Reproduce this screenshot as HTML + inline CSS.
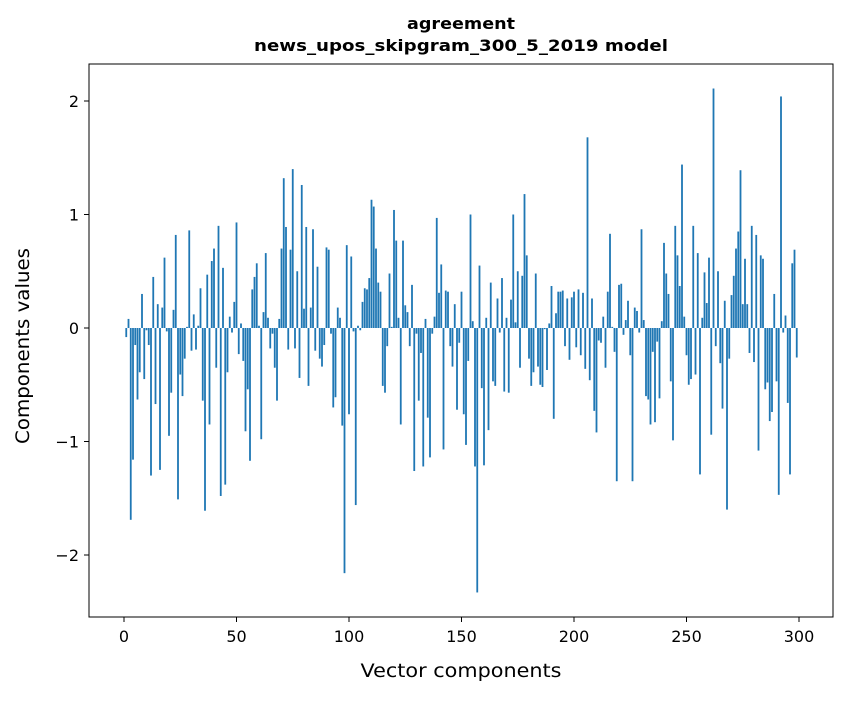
<!DOCTYPE html>
<html><head><meta charset="utf-8"><style>
body{margin:0;background:#fff;}
text{font-family:"DejaVu Sans","Liberation Sans",sans-serif;fill:#000;}
</style></head><body>
<svg id="chart" width="847" height="696" xmlns="http://www.w3.org/2000/svg">
<rect x="0" y="0" width="847" height="696" fill="#fff"/>
<text x="461" y="29" font-size="16" font-weight="bold" text-anchor="middle" textLength="108" lengthAdjust="spacingAndGlyphs">agreement</text>
<text x="461" y="51" font-size="16" font-weight="bold" text-anchor="middle" textLength="414" lengthAdjust="spacingAndGlyphs">news_upos_skipgram_300_5_2019 model</text>
<g id="bars"></g>
<g id="axes"></g>
<rect x="89" y="64" width="744" height="553" fill="none" stroke="#000" stroke-width="1"/>
<text x="461" y="677" font-size="19" text-anchor="middle" textLength="201" lengthAdjust="spacingAndGlyphs">Vector components</text>
<text transform="translate(29,346) rotate(-90)" font-size="19" text-anchor="middle" textLength="196" lengthAdjust="spacingAndGlyphs">Components values</text>
</svg>
<script>
const values = [-0.08,0.08,-1.69,-1.16,-0.15,-0.63,-0.39,0.30,-0.45,-0.02,-0.15,-1.30,0.45,-0.67,0.21,-1.25,0.18,0.62,-0.03,-0.95,-0.57,0.16,0.82,-1.51,-0.41,-0.60,-0.27,0.01,0.86,-0.2,0.12,-0.19,0.02,0.35,-0.64,-1.61,0.47,-0.85,0.59,0.70,-0.35,0.90,-1.48,0.53,-1.38,-0.39,0.10,-0.04,0.23,0.93,
-0.23,0.04,-0.29,-0.91,-0.54,-1.17,0.34,0.45,0.57,0.02,-0.98,0.14,0.66,0.09,-0.18,-0.05,-0.35,-0.64,0.08,0.70,1.32,0.89,-0.19,0.69,1.40,-0.18,0.50,-0.44,1.26,0.17,0.89,-0.51,0.18,0.87,-0.20,0.54,-0.27,-0.34,-0.15,0.71,0.69,-0.05,-0.70,-0.61,0.18,0.09,-0.86,-2.16,0.73,-0.76,
0.63,-0.03,-1.56,0.02,-0.02,0.23,0.35,0.34,0.44,1.13,1.07,0.70,0.40,0.32,-0.51,-0.57,-0.16,0.48,0.01,1.04,0.77,0.09,-0.85,0.77,0.20,0.14,-0.16,0.38,-1.26,-0.05,-0.64,-0.22,-1.22,0.08,-0.79,-1.14,-0.05,0.10,0.97,0.31,0.56,-1.07,0.33,0.32,-0.16,-0.34,0.21,-0.72,-0.13,0.32,
-0.76,-1.03,-0.29,1.00,0.06,-1.22,-2.33,0.55,-0.53,-1.21,0.09,-0.90,0.40,-0.47,-0.51,0.26,-0.04,0.44,-0.56,0.09,-0.57,0.25,1.00,0.05,0.50,-0.35,0.46,1.18,0.64,-0.27,-0.51,-0.39,0.48,-0.34,-0.50,-0.52,-0.01,-0.37,0.04,0.37,-0.80,0.13,0.32,0.32,0.33,-0.16,0.26,-0.28,0.27,0.32,
-0.17,0.34,-0.24,0.31,-0.36,1.68,-0.46,0.26,-0.73,-0.92,-0.11,-0.13,0.10,-0.35,0.32,0.83,0.01,-0.21,-1.35,0.38,0.39,-0.06,0.07,0.24,-0.24,-1.35,0.18,0.15,-0.04,0.87,0.07,-0.60,-0.63,-0.85,-0.21,-0.83,-0.12,-0.62,0.06,0.75,0.48,0.30,-0.47,-0.99,0.90,0.64,0.37,1.44,0.10,-0.24,
-0.50,-0.45,0.90,-0.41,0.66,-1.29,0.09,0.49,0.22,0.62,-0.94,2.11,-0.16,0.50,-0.31,-0.71,0.24,-1.60,-0.27,0.29,0.46,0.70,0.85,1.39,0.21,0.61,0.21,-0.22,0.90,-0.30,0.82,-1.08,0.64,0.61,-0.54,-0.48,-0.82,-0.74,0.30,-0.47,-1.47,2.04,-0.04,0.11,-0.66,-1.29,0.57,0.69,-0.26];
const xTicks = [0,50,100,150,200,250,300];
const yTicks = [-2,-1,0,1,2];
const xScale = v => 124 + v * 2.25;
const yScale = v => 328 - v * 113.5;
const NS = "http://www.w3.org/2000/svg";
const bars = document.getElementById('bars');
values.forEach((v, i) => {
  const idx = i + 1;
  const r = document.createElementNS(NS, 'rect');
  const x0 = xScale(idx - 0.4), x1 = xScale(idx + 0.4);
  const y0 = yScale(Math.max(v, 0)), y1 = yScale(Math.min(v, 0));
  r.setAttribute('x', x0); r.setAttribute('width', x1 - x0);
  r.setAttribute('y', y0); r.setAttribute('height', Math.max(y1 - y0, 0.3));
  r.setAttribute('fill', '#1f77b4');
  
  
  bars.appendChild(r);
});
const axes = document.getElementById('axes');
xTicks.forEach(t => {
  const x = xScale(t);
  const l = document.createElementNS(NS, 'line');
  l.setAttribute('x1', x); l.setAttribute('x2', x); l.setAttribute('y1', 617); l.setAttribute('y2', 622);
  l.setAttribute('stroke', '#000');
  
  
  axes.appendChild(l);
  const tx = document.createElementNS(NS, 'text');
  tx.setAttribute('x', x); tx.setAttribute('y', 642); tx.setAttribute('font-size', '16'); tx.setAttribute('text-anchor', 'middle');
  tx.textContent = t;
  
  
  axes.appendChild(tx);
});
yTicks.forEach(t => {
  const y = yScale(t);
  const l = document.createElementNS(NS, 'line');
  l.setAttribute('x1', 84); l.setAttribute('x2', 89); l.setAttribute('y1', y); l.setAttribute('y2', y);
  l.setAttribute('stroke', '#000');
  
  
  axes.appendChild(l);
  const tx = document.createElementNS(NS, 'text');
  tx.setAttribute('x', 79); tx.setAttribute('y', y + 6); tx.setAttribute('font-size', '16'); tx.setAttribute('text-anchor', 'end');
  tx.textContent = t < 0 ? '\u2212' + Math.abs(t) : String(t);
  
  
  axes.appendChild(tx);
});
</script>
</body></html>
